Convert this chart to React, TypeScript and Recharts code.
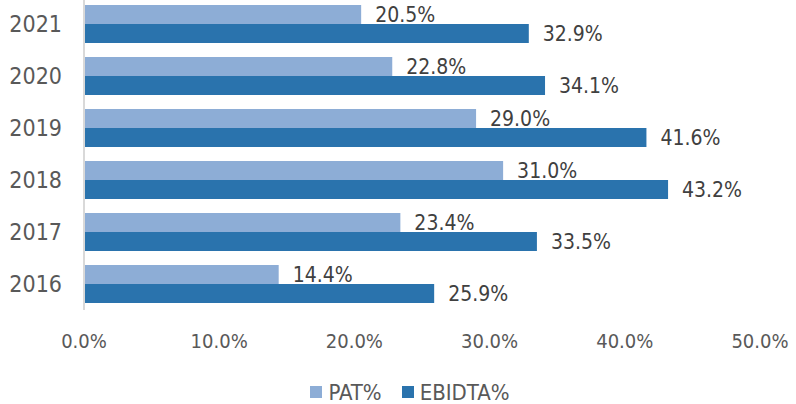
import React from "react";
import { BarChart, Bar, XAxis, YAxis, Legend, LabelList } from "recharts";

const years = ["2021", "2020", "2019", "2018", "2017", "2016"];
const pat = [0.205, 0.228, 0.29, 0.31, 0.234, 0.144];
const ebidta = [0.329, 0.341, 0.416, 0.432, 0.335, 0.259];
const xTicks = [0, 0.1, 0.2, 0.3, 0.4, 0.5];
const seriesNames = ["PAT%", "EBIDTA%"];
const colors = ["#8DADD6", "#2A73AD"];

const data = years.map((y, i) => ({ year: y, pat: pat[i], ebidta: ebidta[i] }));

const FONT = "'DejaVu Sans Condensed', 'DejaVu Sans', sans-serif";
const pct = (v: number) => `${(v * 100).toFixed(1)}%`;

const LegendContent = () => (
  <div
    style={{
      width: 796,
      height: 34,
      boxSizing: "border-box",
      paddingTop: 10,
      paddingLeft: 24,
      display: "flex",
      justifyContent: "center",
      alignItems: "center",
      fontFamily: FONT,
      fontSize: 22,
      color: "#595959",
    }}
  >
    {seriesNames.map((n, i) => (
      <div key={n} style={{ display: "flex", alignItems: "center", marginRight: i === 0 ? 20 : 0 }}>
        <div style={{ width: 12, height: 12, background: colors[i], marginRight: 6 }} />
        <span>{n}</span>
      </div>
    ))}
  </div>
);

export default function App() {
  return (
    <div style={{ position: "absolute", left: 0, top: 0, width: 796, height: 404, background: "#fff" }}>
      <BarChart
        width={796}
        height={404}
        data={data}
        layout="vertical"
        margin={{ top: -2, right: 36, bottom: 0, left: 0 }}
        barCategoryGap="13.5%"
        barGap={0}
      >
        <XAxis
          type="number"
          domain={[0, 0.5]}
          ticks={xTicks}
          tickFormatter={pct}
          axisLine={false}
          tickLine={false}
          tickSize={0}
          tickMargin={24}
          height={60}
          interval={0}
          tick={{ fill: "#595959", fontSize: 20, fontFamily: FONT }}
        />
        <YAxis
          type="category"
          dataKey="year"
          width={84}
          axisLine={{ stroke: "#D9D9D9", strokeWidth: 2 }}
          tickLine={false}
          tickSize={0}
          tickMargin={22}
          tick={{ fill: "#595959", fontSize: 23, fontFamily: FONT }}
        />
        <Legend verticalAlign="bottom" height={34} content={<LegendContent />} />
        <Bar dataKey="pat" name={seriesNames[0]} fill={colors[0]} isAnimationActive={false}>
          <LabelList
            dataKey="pat"
            position="right"
            offset={14}
            formatter={(v: any) => pct(Number(v))}
            style={{ fill: "#404040", fontSize: 21, fontFamily: FONT }}
          />
        </Bar>
        <Bar dataKey="ebidta" name={seriesNames[1]} fill={colors[1]} isAnimationActive={false}>
          <LabelList
            dataKey="ebidta"
            position="right"
            offset={14}
            formatter={(v: any) => pct(Number(v))}
            style={{ fill: "#404040", fontSize: 21, fontFamily: FONT }}
          />
        </Bar>
      </BarChart>
    </div>
  );
}
